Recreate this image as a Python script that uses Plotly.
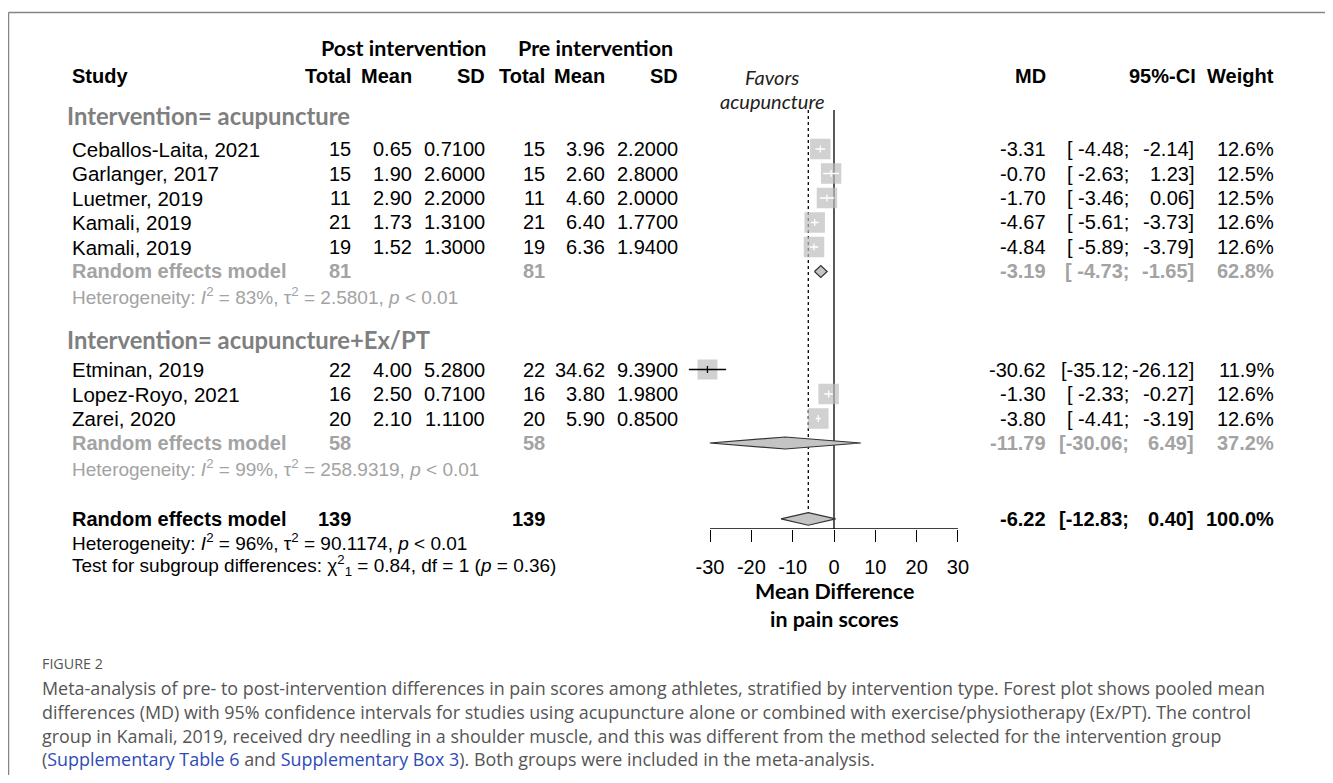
import plotly.graph_objects as go

# ---------------- data ----------------
studies = ["Ceballos-Laita, 2021", "Garlanger, 2017", "Luetmer, 2019", "Kamali, 2019",
           "Kamali, 2019", "Etminan, 2019", "Lopez-Royo, 2021", "Zarei, 2020"]
study_group = [0, 0, 0, 0, 0, 1, 1, 1]
post_n = [15, 15, 11, 21, 19, 22, 16, 20]
post_mean = [0.65, 1.90, 2.90, 1.73, 1.52, 4.00, 2.50, 2.10]
post_sd = [0.71, 2.60, 2.20, 1.31, 1.30, 5.28, 0.71, 1.11]
pre_n = [15, 15, 11, 21, 19, 22, 16, 20]
pre_mean = [3.96, 2.60, 4.60, 6.40, 6.36, 34.62, 3.80, 5.90]
pre_sd = [2.20, 2.80, 2.00, 1.77, 1.94, 9.39, 1.98, 0.85]
md = [-3.31, -0.70, -1.70, -4.67, -4.84, -30.62, -1.30, -3.80]
ci_lo = [-4.48, -2.63, -3.46, -5.61, -5.89, -35.12, -2.33, -4.41]
ci_hi = [-2.14, 1.23, 0.06, -3.73, -3.79, -26.12, -0.27, -3.19]
weight = [12.6, 12.5, 12.5, 12.6, 12.6, 11.9, 12.6, 12.6]

group_names = ["Intervention= acupuncture", "Intervention= acupuncture+Ex/PT"]
group_n = [81, 58]
group_md = [-3.19, -11.79]
group_lo = [-4.73, -30.06]
group_hi = [-1.65, 6.49]
group_weight = [62.8, 37.2]
group_i2 = [83, 99]
group_tau2 = ["2.5801", "258.9319"]

overall_n = 139
overall_md = -6.22
overall_lo = -12.83
overall_hi = 0.40
overall_weight = 100.0
overall_i2 = 96
overall_tau2 = "90.1174"
subgroup_chi2 = 0.84
subgroup_df = 1
subgroup_p = 0.36

axis_ticks = [-30, -20, -10, 0, 10, 20, 30]

caption_lines = [
    "Meta-analysis of pre- to post-intervention differences in pain scores among athletes, stratified by intervention type. Forest plot shows pooled mean",
    "differences (MD) with 95% confidence intervals for studies using acupuncture alone or combined with exercise/physiotherapy (Ex/PT). The control",
    "group in Kamali, 2019, received dry needling in a shoulder muscle, and this was different from the method selected for the intervention group",
    "(<span style='color:#2e4bb5'>Supplementary Table 6</span> and <span style='color:#2e4bb5'>Supplementary Box 3</span>). Both groups were included in the meta-analysis.",
]

# ---------------- layout constants ----------------
OFF = 8                 # page body margin
W, H = 1317, 767        # figure size (page minus margins)
X0_PX = 834.0           # page pixel of MD = 0
PX_PER_UNIT = 4.133     # pixels per MD unit
XR = 40
AX_BOTTOM = 529         # page pixel y of forest axis line
ROW0, STEP = 149, 24.5

SANS = "Liberation Sans, Arial, sans-serif"
CAL = "Lato, Open Sans, sans-serif"
CAP = "Open Sans, sans-serif"
GRAY = "#a3a3a3"
HEADGRAY = "#7f7f7f"

def row_y(k):
    return ROW0 + STEP * k

def px_x(px):
    return (px - OFF) / W

def px_y(py):
    return 1 - (py - OFF) / H

study_rows = [0, 1, 2, 3, 4, 9, 10, 11]
group_rows = [5, 12]
group_het_rows = [6, 13]
group_head_y = [116, 340]
overall_row = 15.1

annotations = []

def ann(px, py, text, anchor="left", size=20, color="black", family=SANS):
    annotations.append(dict(
        x=px_x(px), y=px_y(py), xref="paper", yref="paper", text=text,
        showarrow=False, xanchor=anchor, yanchor="middle",
        font=dict(size=size, color=color, family=family), borderpad=0))

C_STUDY = 71
C_PN, C_PM, C_PS = 352, 413, 486
C_RN, C_RM, C_RS = 546, 606, 679
C_MD, C_LO, C_HI, C_W = 1047, 1130, 1195, 1275

def b(t):
    return "<b>" + t + "</b>"

# headers
ann(404, 48, b("Post intervention"), "center", 21.5, "black", CAL)
ann(595, 48, b("Pre intervention"), "center", 21.5, "black", CAL)
ann(C_STUDY, 76, b("Study"))
for x, t in [(C_PN, "Total"), (C_PM, "Mean"), (C_PS, "SD"), (C_RN, "Total"),
             (C_RM, "Mean"), (C_RS, "SD"), (C_MD, "MD"), (C_HI + 2, "95%-CI"), (C_W, "Weight")]:
    ann(x, 76, b(t), "right")
ann(772, 77, "<i>Favors</i>", "center", 20, "#222", CAL)
ann(772, 101, "<i>acupuncture</i>", "center", 20, "#222", CAL)

def fmt_lo(v):
    s = f"{v:.2f}"
    return "[" + (" " if len(s) < 6 else "") + s + ";"

for i in range(len(studies)):
    y = row_y(study_rows[i])
    ann(C_STUDY, y, studies[i], "left", 20.5)
    ann(C_PN, y, f"{post_n[i]}", "right")
    ann(C_PM, y, f"{post_mean[i]:.2f}", "right")
    ann(C_PS, y, f"{post_sd[i]:.4f}", "right")
    ann(C_RN, y, f"{pre_n[i]}", "right")
    ann(C_RM, y, f"{pre_mean[i]:.2f}", "right")
    ann(C_RS, y, f"{pre_sd[i]:.4f}", "right")
    ann(C_MD, y, f"{md[i]:.2f}", "right")
    ann(C_LO, y, fmt_lo(ci_lo[i]), "right")
    ann(C_HI, y, f"{ci_hi[i]:.2f}]", "right")
    ann(C_W, y, f"{weight[i]:.1f}%", "right")

for g in range(2):
    ann(66, group_head_y[g], b(group_names[g]), "left", 23.8, HEADGRAY, CAL)
    y = row_y(group_rows[g])
    ann(C_STUDY, y, b("Random effects model"), "left", 20, GRAY)
    ann(C_PN, y, b(str(group_n[g])), "right", 20, GRAY)
    ann(C_RN, y, b(str(group_n[g])), "right", 20, GRAY)
    ann(C_MD, y, b(f"{group_md[g]:.2f}"), "right", 20, GRAY)
    ann(C_LO, y, b(fmt_lo(group_lo[g])), "right", 20, GRAY)
    ann(C_HI, y, b(f"{group_hi[g]:.2f}]"), "right", 20, GRAY)
    ann(C_W, y, b(f"{group_weight[g]:.1f}%"), "right", 20, GRAY)
    yh = row_y(group_het_rows[g])
    ann(C_STUDY, yh, f"Heterogeneity: <i>I</i><sup>2</sup> = {group_i2[g]}%, τ<sup>2</sup> = {group_tau2[g]}, <i>p</i> &lt; 0.01",
        "left", 19, GRAY)

yo = row_y(overall_row)
ann(C_STUDY, yo, b("Random effects model"))
ann(C_PN, yo, b(str(overall_n)), "right")
ann(C_RN, yo, b(str(overall_n)), "right")
ann(C_MD, yo, b(f"{overall_md:.2f}"), "right")
ann(C_LO, yo, b(fmt_lo(overall_lo)), "right")
ann(C_HI, yo, b(f"{overall_hi:.2f}]"), "right")
ann(C_W, yo, b(f"{overall_weight:.1f}%"), "right")
ann(C_STUDY, row_y(16.05), f"Heterogeneity: <i>I</i><sup>2</sup> = {overall_i2}%, τ<sup>2</sup> = {overall_tau2}, <i>p</i> &lt; 0.01",
    "left", 19)
ann(C_STUDY, row_y(17.0), f"Test for subgroup differences: χ<sup>2</sup><sub>{subgroup_df}</sub> = {subgroup_chi2:.2f}, df = {subgroup_df} (<i>p</i> = {subgroup_p:.2f})",
    "left", 19)

ann(834, 591, b("Mean Difference"), "center", 21.4, "black", CAL)
ann(834, 619, b("in pain scores"), "center", 21.4, "black", CAL)

ann(41, 663, "FIGURE 2", "left", 14.3, "#555", CAP)
for j, line in enumerate(caption_lines):
    ann(41, 688 + 23.8 * j, line, "left", 17.9, "#555", CAP)

# ---------------- forest marks ----------------
fig = go.Figure()

sq_px = [20.5 * (w / 12.6) ** 0.5 for w in weight]
sy = [row_y(k) for k in study_rows]
fig.add_trace(go.Scatter(
    x=md, y=sy, mode="markers",
    marker=dict(symbol="square", size=sq_px, color="#bdbdbd", line=dict(width=0)),
    hoverinfo="skip", showlegend=False))

for i in range(len(studies)):
    inside = (ci_hi[i] - ci_lo[i]) * PX_PER_UNIT < sq_px[i]
    col = "white" if inside else "black"
    fig.add_trace(go.Scatter(
        x=[ci_lo[i], ci_hi[i], None, md[i], md[i]],
        y=[sy[i], sy[i], None, sy[i] - 3.5, sy[i] + 3.5],
        mode="lines", line=dict(color=col, width=1.3),
        hoverinfo="skip", showlegend=False))

def diamond(est, lo, hi, y, half):
    fig.add_trace(go.Scatter(
        x=[lo, est, hi, est, lo], y=[y, y - half, y, y + half, y],
        mode="lines", fill="toself", fillcolor="#c4c4c4",
        line=dict(color="#333", width=1.2), hoverinfo="skip", showlegend=False))

for g in range(2):
    diamond(group_md[g], group_lo[g], group_hi[g], row_y(group_rows[g]), 6)
diamond(overall_md, overall_lo, overall_hi, yo, 6.3)

shapes = [
    dict(type="line", xref="x", yref="y", x0=0, x1=0, y0=110, y1=AX_BOTTOM,
         line=dict(color="black", width=1.3), layer="below"),
    dict(type="line", xref="x", yref="y", x0=overall_md, x1=overall_md, y0=110, y1=yo,
         line=dict(color="black", width=1.3, dash="dot"), layer="below"),
    dict(type="line", xref="x", yref="y", x0=axis_ticks[0], x1=axis_ticks[-1],
         y0=AX_BOTTOM, y1=AX_BOTTOM, line=dict(color="black", width=1.3)),
    dict(type="line", xref="paper", yref="paper", x0=px_x(8.5), x1=1.0, y0=px_y(12.5), y1=px_y(12.5),
         line=dict(color="#84848c", width=1.5)),
    dict(type="line", xref="paper", yref="paper", x0=px_x(8.5), x1=px_x(8.5), y0=0, y1=px_y(12.5),
         line=dict(color="#84848c", width=1.5)),
]

x_left_px = X0_PX - XR * PX_PER_UNIT
x_right_px = X0_PX + XR * PX_PER_UNIT

fig.update_layout(
    width=W, height=H,
    margin=dict(l=0, r=0, t=0, b=0),
    paper_bgcolor="white", plot_bgcolor="rgba(0,0,0,0)",
    showlegend=False,
    annotations=annotations,
    shapes=shapes,
    xaxis=dict(
        domain=[px_x(x_left_px), px_x(x_right_px)], range=[-XR, XR],
        tickvals=axis_ticks, ticktext=[str(t) for t in axis_ticks],
        ticks="outside", ticklen=12, tickwidth=1.3, tickcolor="black",
        showgrid=False, zeroline=False, showline=False,
        tickfont=dict(family=SANS, size=20, color="black"),
        ticklabelstandoff=8, fixedrange=True),
    yaxis=dict(
        domain=[px_y(AX_BOTTOM), 1], range=[AX_BOTTOM, OFF],
        showgrid=False, zeroline=False, showline=False, showticklabels=False,
        ticks="", fixedrange=True),
)

fig.write_html("out.html")
